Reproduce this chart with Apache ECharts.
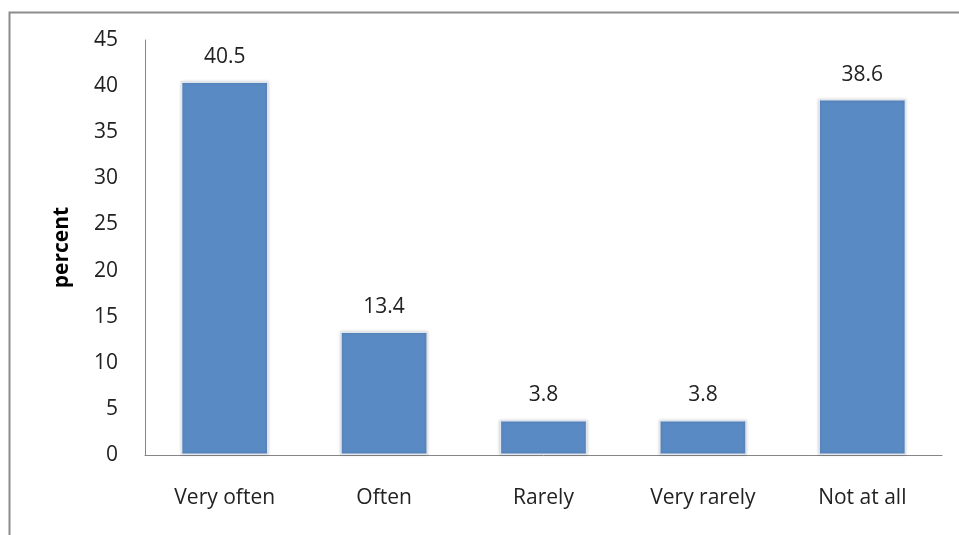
<!DOCTYPE html>
<html>
<head>
<meta charset="utf-8">
<script src="https://cdn.jsdelivr.net/npm/echarts@6/dist/echarts.min.js"></script>
<style>
  html, body { margin: 0; padding: 0; background: #fff; }
  #chart { width: 959px; height: 535px; }
</style>
</head>
<body>
<div id="chart"></div>
<script>
var categories = ['Very often', 'Often', 'Rarely', 'Very rarely', 'Not at all'];
var percentValues = [40.5, 13.4, 3.8, 3.8, 38.6];
var yTicks = { min: 0, max: 45, interval: 5 };

var chart = echarts.init(document.getElementById('chart'));
var fontFamily = '"Open Sans", sans-serif';

var option = {
    animation: false,
    backgroundColor: '#fff',
    graphic: [
        {
            type: 'rect',
            left: 7, top: 10,
            shape: { width: 1000, height: 600 },
            style: { fill: 'none', stroke: '#8c8c8c', lineWidth: 2 },
            silent: true
        }
    ],
    grid: { left: 145, right: 17, top: 40, bottom: 80 },
    xAxis: {
        type: 'category',
        data: categories,
        axisLine: { show: true, lineStyle: { color: '#868686', width: 1 } },
        axisTick: { show: false },
        axisLabel: { color: '#222', fontSize: 21, fontFamily: fontFamily, margin: 33 }
    },
    yAxis: {
        type: 'value',
        min: yTicks.min,
        max: yTicks.max,
        interval: yTicks.interval,
        name: 'percent',
        nameLocation: 'middle',
        nameGap: 72,
        nameTextStyle: { color: '#000', fontSize: 21, fontWeight: 'bold', fontFamily: fontFamily },
        axisLine: { show: true, lineStyle: { color: '#868686', width: 1 } },
        axisTick: { show: false },
        splitLine: { show: false },
        axisLabel: { color: '#222', fontSize: 21, fontFamily: fontFamily, margin: 27 }
    },
    series: [
        {
            type: 'bar',
            data: percentValues,
            barWidth: '55%',
            itemStyle: {
                color: '#5a8ac4',
                borderColor: '#dfe6ee',
                borderWidth: 1.5,
                shadowColor: 'rgba(0,0,0,0.18)',
                shadowBlur: 3
            },
            label: {
                show: true,
                position: 'top',
                distance: 14,
                color: '#222',
                fontSize: 21,
                fontFamily: fontFamily
            }
        }
    ]
};

chart.setOption(option);
</script>
</body>
</html>
